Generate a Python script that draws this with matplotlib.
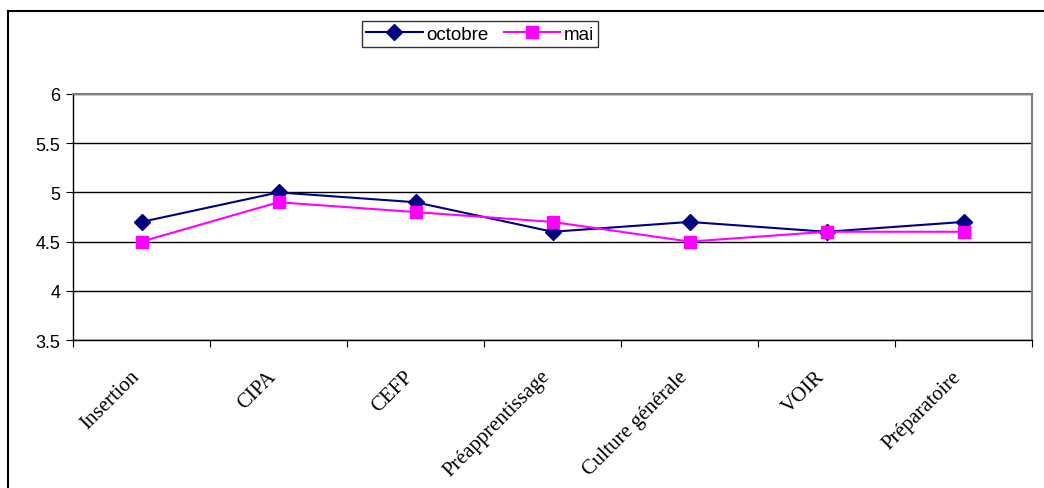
import matplotlib.pyplot as plt
import matplotlib.transforms as mtransforms
from matplotlib.lines import Line2D

categories = ["Insertion", "CIPA", "CEFP", "Préapprentissage", "Culture générale", "VOIR", "Préparatoire"]
octobre = [4.7, 5.0, 4.9, 4.6, 4.7, 4.6, 4.7]
mai = [4.5, 4.9, 4.8, 4.7, 4.5, 4.6, 4.6]
yticks = [3.5, 4, 4.5, 5, 5.5, 6]

fig = plt.figure(figsize=(10.44, 4.89), dpi=100)
ax = fig.add_axes([73 / 1044, 1 - 341 / 489, (1032 - 73) / 1044, (341 - 95) / 489])

x = list(range(len(categories)))
ax.plot(x, octobre, color="#000080", marker="D", markersize=8, linewidth=1.5, label="octobre")
ax.plot(x, mai, color="#FF00FF", marker="s", markersize=9, linewidth=1.5, label="mai")

ax.set_xlim(-0.5, len(categories) - 0.5)
ax.set_ylim(3.5, 6)
ax.set_yticks(yticks)
ax.set_yticklabels([f"{v:g}" for v in yticks], family="Liberation Sans", fontsize=13)
ax.yaxis.grid(True, color="black", linewidth=1)
ax.set_axisbelow(True)

# category ticks sit between categories
ax.set_xticks([i - 0.5 for i in range(len(categories) + 1)])
ax.set_xticklabels([])
ax.set_xticks(x, minor=True)
ax.set_xticklabels(categories, minor=True, rotation=45, ha="right", va="center",
                   rotation_mode="anchor", family="Liberation Serif", fontsize=15)
ax.tick_params(axis="x", which="minor", length=0, pad=24)
ax.tick_params(axis="x", which="major", length=5, direction="out", color="black")
ax.tick_params(axis="y", length=5, direction="out", color="black", pad=4)

shift = mtransforms.ScaledTranslation(-5 / 100, 0, fig.dpi_scale_trans)
for lbl in ax.get_xticklabels(minor=True):
    lbl.set_transform(lbl.get_transform() + shift)

for s in ["top", "right"]:
    ax.spines[s].set_color("#808080")
    ax.spines[s].set_linewidth(1.5)
for s in ["left", "bottom"]:
    ax.spines[s].set_color("black")
    ax.spines[s].set_linewidth(1)

leg = fig.legend(loc="center", bbox_to_anchor=(480 / 1044, 1 - 35 / 489), ncol=2,
                 prop={"family": "Liberation Sans", "size": 13.5}, frameon=True,
                 fancybox=False, edgecolor="black", borderpad=0.25, handlelength=3,
                 columnspacing=0.8, handletextpad=0.2)
leg.get_frame().set_linewidth(1)

# outer border of the chart (left and top edges visible)
fig.add_artist(Line2D([8 / 1044, 8 / 1044], [0, 1 - 12 / 489], color="black", linewidth=1.5))
fig.add_artist(Line2D([8 / 1044, 1], [1 - 12 / 489, 1 - 12 / 489], color="black", linewidth=1.5))

fig.savefig("out.png", dpi=100)
